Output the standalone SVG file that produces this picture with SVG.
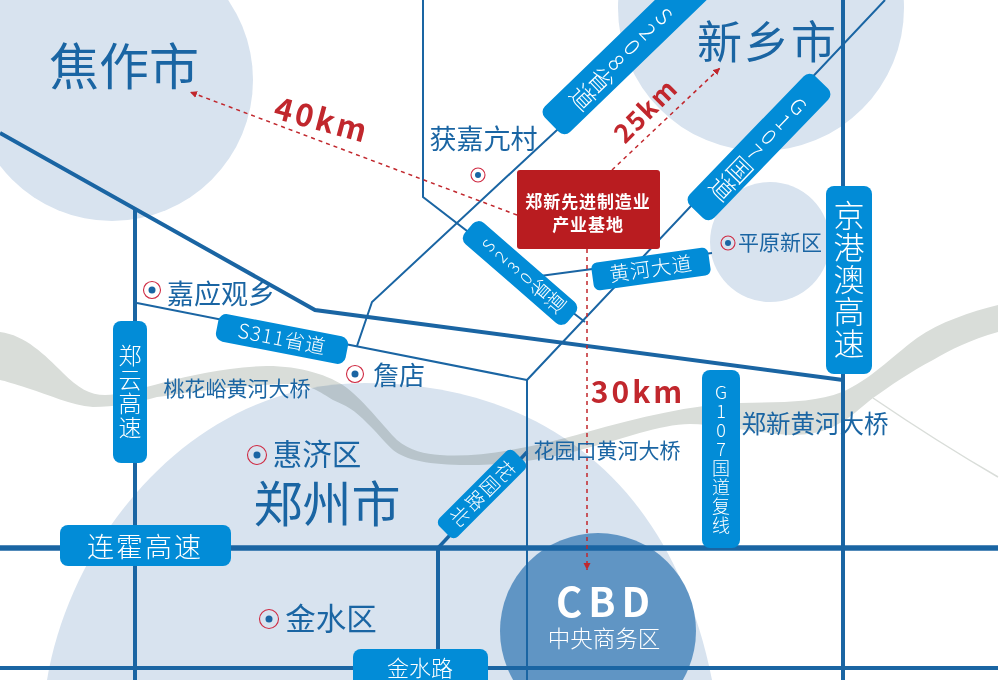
<svg xmlns="http://www.w3.org/2000/svg" width="1000" height="680" viewBox="0 0 1000 680">
<style>
text{font-family:"Noto Sans CJK SC","Noto Sans",sans-serif;font-weight:300}
.b{fill:#1a65a3;text-anchor:middle;font-weight:400}
.w{fill:#fff;text-anchor:middle}
.v{writing-mode:vertical-rl;text-orientation:mixed}
.u{writing-mode:vertical-rl;text-orientation:upright}
.r{fill:#c1272d;font-weight:700;text-anchor:middle}
.p{fill:#028cd7}
.area{fill:#d8e3ef}
.l2{fill:none;stroke:#1a65a3;stroke-width:2}
.l3{fill:none;stroke:#1a65a3;stroke-width:3.5}
.l4{fill:none;stroke:#1a65a3;stroke-width:4}
.l5{fill:none;stroke:#1a65a3;stroke-width:5.5}
.d{fill:none;stroke:#c1272d;stroke-width:1.5;stroke-dasharray:4 4}
.ring{fill:none;stroke:#cf2a42;stroke-width:1.1}
.dot{fill:#1a65a3}
</style>
<defs>
<marker id="arr" markerUnits="userSpaceOnUse" markerWidth="8" markerHeight="8" refX="7" refY="4" orient="auto"><path d="M0,0.500L7,4L0,7.500Z" fill="#c1272d"/></marker>
</defs>
<rect width="1000" height="680" fill="#fff"/>
<g id="areas">
<circle class="area" cx="112" cy="80" r="141"/>
<circle class="area" cx="761" cy="8" r="143"/>
<circle class="area" cx="770" cy="242" r="60"/>
<path class="area" d="M47,680C70,540 190,383 365,383C530,383 670,470 712,680Z"/>
</g>
<g id="river" style="mix-blend-mode:multiply">
<path fill="#d9ddd9" d="M0,332C25,335 45,355 63,373C78,388 90,395 105,395C135,395 190,368 267,366C300,366 330,375 347,388C365,402 385,428 397,440C410,451 425,454 440,455C480,458 530,448 587,432C640,417 690,405 740,403C780,402 815,403 842,392C870,380 890,358 917,338C940,322 970,312 998,305L998,332C970,340 950,350 933,360C910,372 890,386 873,398C860,408 850,418 840,423C825,432 810,435 790,435C760,434 720,424 690,424C660,424 620,440 587,448C560,456 520,465 467,465C430,465 405,460 393,450C385,443 375,430 367,423C355,410 345,405 333,400C320,392 310,384 290,384C250,384 190,392 157,397C135,403 115,407 93,407C70,405 50,395 27,388C15,384 5,381 0,380Z"/>
</g>
<path id="branch" d="M873,398C920,430 960,455 998,477" fill="none" stroke="#d9ddd9" stroke-width="1.500"/>
<circle id="cbd-area" cx="598" cy="631" r="98" fill="#6095c4"/>
<g id="connectors">
<path class="l4" d="M135,208V680"/>
<path class="l4" d="M0,133L315,310L843,380"/>
<path class="l4" d="M843,0V680"/>
<path class="l5" d="M0,548H998"/>
<path class="l4" d="M0,668H998"/>
<path class="l4" d="M438,548V660"/>
<path class="l3" d="M438,548L527,452"/>
<path class="l2" d="M527,680V380L885,0"/>
<path class="l2" d="M423,0V197L585,322"/>
<path class="l2" d="M357,346L372,302L700,-3"/>
<path class="l2" d="M137,303L527,380"/>
<path class="l2" d="M540,276L712,253"/>
<path class="d" d="M517,215L190,92" marker-end="url(#arr)"/>
<path class="d" d="M612,170L720,68" marker-end="url(#arr)"/>
<path class="d" d="M587,249V570" marker-end="url(#arr)"/>
</g>
<g id="city-jiaozuo"><text class="b" x="124" y="85" font-size="50">焦作市</text></g>
<g id="city-xinxiang"><text class="b" x="767.500" y="59" font-size="45" letter-spacing="2">新乡市</text></g>
<g id="city-zhengzhou"><text class="b" x="327" y="522" font-size="49">郑州市</text></g>
<g id="dist-40"><text class="r" transform="translate(322,120) rotate(15)" y="11" font-size="31" letter-spacing="3">40km</text></g>
<g id="dist-25"><text class="r" transform="translate(646,111) rotate(-45)" y="9" font-size="26" letter-spacing="1.500">25km</text></g>
<g id="dist-30"><text class="r" x="638" y="403" font-size="30" letter-spacing="3">30km</text></g>
<g id="huojia"><text class="b" x="483.500" y="149" font-size="27">获嘉亢村</text><circle class="ring" cx="478" cy="175" r="7"/><circle class="dot" cx="478" cy="175" r="3"/></g>
<g id="pingyuan"><circle class="ring" cx="728" cy="243" r="7"/><circle class="dot" cx="728" cy="243" r="3"/><text class="b" x="780" y="250" font-size="21">平原新区</text></g>
<g id="jiaying"><circle class="ring" cx="152" cy="290" r="8.500"/><circle class="dot" cx="152" cy="290" r="3.500"/><text class="b" x="221" y="304" font-size="27">嘉应观乡</text></g>
<g id="zhandian"><circle class="ring" cx="355" cy="374" r="8.500"/><circle class="dot" cx="355" cy="374" r="3.500"/><text class="b" x="399" y="385" font-size="26">詹店</text></g>
<g id="huiji"><circle class="ring" cx="257" cy="455" r="9.500"/><circle class="dot" cx="257" cy="455" r="3.500"/><text class="b" x="317" y="465" font-size="29.500">惠济区</text></g>
<g id="jinshui"><circle class="ring" cx="269" cy="619" r="9.500"/><circle class="dot" cx="269" cy="619" r="3.500"/><text class="b" x="331" y="630" font-size="30.500">金水区</text></g>
<g id="bridge-taohuayu"><text class="b" x="237" y="396" font-size="21">桃花峪黄河大桥</text></g>
<g id="bridge-huayuankou"><text class="b" x="607" y="458" font-size="21">花园口黄河大桥</text></g>
<g id="bridge-zhengxin"><text class="b" x="815" y="433" font-size="24.500">郑新黄河大桥</text></g>
<g id="base"><rect x="517" y="170" width="143" height="79" rx="3" fill="#b91c20"/><text x="588" y="208" fill="#fff" text-anchor="middle" font-size="17" letter-spacing="0.900" style="font-weight:700">郑新先进制造业</text><text x="588" y="231" fill="#fff" text-anchor="middle" font-size="17" letter-spacing="0.900" style="font-weight:700">产业基地</text></g>
<g id="cbd"><text class="w" x="606" y="617" font-size="40" letter-spacing="6" style="font-weight:700">CBD</text><text class="w" x="604" y="647" font-size="22.500">中央商务区</text></g>
<g id="s208" transform="translate(628,51) rotate(46)"><rect class="p" x="-18" y="-100" width="36" height="206" rx="8"/><text class="w u" x="0" y="8" font-size="22">S208<tspan font-size="25" dx="2">省道</tspan></text></g>
<g id="g107" transform="translate(759,147) rotate(44)"><rect class="p" x="-17" y="-90" width="34" height="180" rx="8"/><text class="w u" x="0" y="0" font-size="21">G107<tspan font-size="25" dx="2">国道</tspan></text></g>
<g id="s230" transform="translate(520,273) rotate(-49)"><rect class="p" x="-14" y="-68" width="28" height="136" rx="8"/><text class="w u" x="0" y="3" font-size="16.500">S230<tspan font-size="20" dx="1">省道</tspan></text></g>
<g id="s311" transform="translate(282,339) rotate(11)"><rect class="p" x="-66" y="-14" width="132" height="28" rx="8"/><text class="w" x="0" y="7" font-size="20" letter-spacing="1">S311省道</text></g>
<g id="huanghe" transform="translate(651,269) rotate(-8)"><rect class="p" x="-59" y="-14" width="118" height="28" rx="6"/><text class="w" x="0" y="7" font-size="20" letter-spacing="1">黄河大道</text></g>
<g id="huayuan" transform="translate(482,494) rotate(45)"><rect class="p" x="-13" y="-53" width="26" height="106" rx="6"/><text class="w v" x="0" y="0" font-size="19" letter-spacing="2">花园路北</text></g>
<g id="zhengyun"><rect class="p" x="113" y="321" width="34" height="142" rx="8"/><text class="w v" x="130" y="392" font-size="23" letter-spacing="1">郑云高速</text></g>
<g id="jinggang"><rect class="p" x="826" y="186" width="46" height="188" rx="8"/><text class="w v" x="849" y="280" font-size="31" letter-spacing="1">京港澳高速</text></g>
<g id="lianhuo"><rect class="p" x="60" y="525" width="171" height="41" rx="8"/><text class="w" x="145" y="557" font-size="27" letter-spacing="2">连霍高速</text></g>
<g id="jinshui-road"><rect class="p" x="353" y="649" width="135" height="45" rx="8"/><text class="w" x="420" y="676" font-size="22">金水路</text></g>
<g id="g107-fx"><rect class="p" x="702" y="370" width="38" height="178" rx="8"/><text class="w u" x="721" y="459" font-size="18" letter-spacing="1">G107国道复线</text></g>
</svg>
